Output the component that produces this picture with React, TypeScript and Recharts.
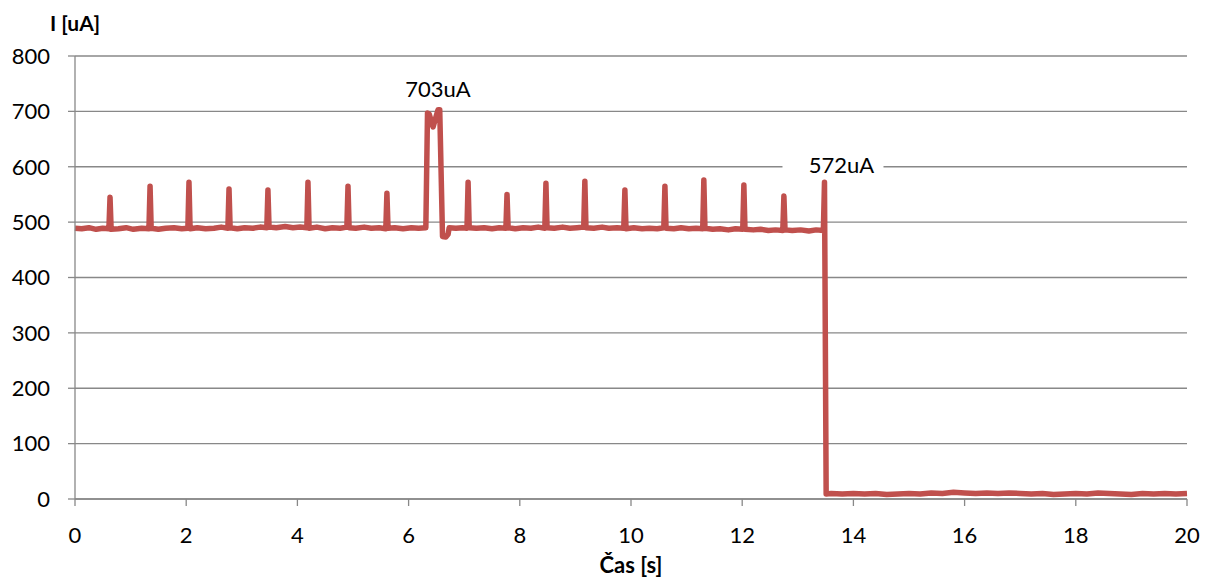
import React from 'react';
import { LineChart, Line, XAxis, YAxis, CartesianGrid, LabelList, Label } from 'recharts';

// [time s, current uA] samples
const beforePulse: [number, number][] = [
  [0, 489], [0.12, 488], [0.25, 490], [0.38, 487], [0.5, 489], [0.61, 488], [0.63, 545], [0.65, 487],
  [0.78, 488], [0.92, 490], [1.05, 487], [1.2, 489], [1.33, 488], [1.35, 565], [1.37, 489], [1.5, 487],
  [1.63, 489], [1.78, 490], [1.92, 488], [2.03, 489], [2.05, 572], [2.07, 488], [2.2, 490], [2.35, 488],
  [2.5, 489], [2.63, 491], [2.75, 489], [2.77, 560], [2.79, 490], [2.92, 488], [3.05, 490], [3.2, 489],
  [3.33, 491], [3.45, 490], [3.47, 558], [3.49, 491], [3.62, 490], [3.78, 492], [3.92, 490], [4.05, 491],
  [4.17, 490], [4.19, 572], [4.21, 489], [4.35, 491], [4.5, 488], [4.63, 490], [4.77, 489], [4.89, 491],
  [4.91, 565], [4.93, 490], [5.05, 489], [5.2, 491], [5.33, 489], [5.47, 490], [5.59, 488], [5.61, 552],
  [5.63, 489], [5.75, 490], [5.9, 488], [6.05, 490], [6.18, 489], [6.31, 490],
];

const pulse: [number, number][] = [
  [6.34, 697], [6.37, 695], [6.44, 672], [6.53, 703], [6.56, 703], [6.61, 474], [6.67, 473], [6.71, 478],
  [6.73, 490],
];

const afterPulse: [number, number][] = [
  [6.85, 489], [6.97, 490], [7.05, 489], [7.07, 572], [7.09, 490], [7.22, 489], [7.36, 490], [7.5, 488],
  [7.63, 490], [7.75, 489], [7.77, 550], [7.79, 490], [7.92, 488], [8.06, 490], [8.2, 489], [8.33, 491],
  [8.45, 489], [8.47, 570], [8.49, 490], [8.62, 489], [8.77, 491], [8.9, 489], [9.03, 490], [9.15, 491],
  [9.17, 574], [9.19, 490], [9.33, 489], [9.48, 491], [9.6, 489], [9.75, 490], [9.87, 489], [9.89, 558],
  [9.91, 488], [10.05, 490], [10.2, 488], [10.33, 489], [10.47, 488], [10.59, 490], [10.61, 565], [10.63, 489],
  [10.77, 488], [10.9, 490], [11.04, 488], [11.17, 489], [11.29, 488], [11.31, 576], [11.33, 489], [11.47, 487],
  [11.6, 488], [11.75, 486], [11.88, 488], [12.01, 487], [12.03, 567], [12.05, 487], [12.2, 486], [12.33, 487],
  [12.47, 485], [12.6, 486], [12.73, 485], [12.75, 547], [12.77, 486], [12.9, 485], [13.05, 486], [13.2, 484],
  [13.33, 486], [13.46, 485], [13.48, 572],
];

const afterDrop: [number, number][] = [
  [13.51, 9], [13.6, 10], [13.8, 9], [14.0, 10], [14.2, 9], [14.4, 10], [14.6, 8], [14.8, 9], [15.0, 10],
  [15.2, 9], [15.4, 11], [15.6, 10], [15.8, 12], [16.0, 11], [16.2, 10], [16.4, 11], [16.6, 10], [16.8, 11],
  [17.0, 10], [17.2, 9], [17.4, 10], [17.6, 8], [17.8, 9], [18.0, 10], [18.2, 9], [18.4, 11], [18.6, 10],
  [18.8, 9], [19.0, 8], [19.2, 10], [19.4, 9], [19.6, 10], [19.8, 9], [20.0, 10],
];

const annotations = [
  { t: 6.53, text: '703uA' },
  { t: 13.48, text: '572uA' },
];

const xTicks = [0, 2, 4, 6, 8, 10, 12, 14, 16, 18, 20];
const yTicks = [0, 100, 200, 300, 400, 500, 600, 700, 800];

const data = [...beforePulse, ...pulse, ...afterPulse, ...afterDrop].map(([t, i]) => ({ t, i }));

const FONT = 'Lato, "Open Sans", sans-serif';
const GRAY = '#888888';

const renderPeakLabel = (props: any) => {
  const { x, y, index } = props;
  const note = annotations.find((a) => a.t === data[index]?.t);
  if (!note) return null;
  if (note.text === '703uA') {
    return (
      <text x={x} y={y - 13} textAnchor="middle" fontFamily={FONT} fontSize={22} fill="#000">
        {note.text}
      </text>
    );
  }
  return (
    <g>
      <rect x={x - 42} y={y - 32} width={101} height={26} fill="#fff" />
      <text x={x + 17} y={y - 9} textAnchor="middle" fontFamily={FONT} fontSize={22} fill="#000">
        {note.text}
      </text>
    </g>
  );
};

export default function App() {
  return (
    <div style={{ position: 'absolute', left: 0, top: 0, width: 1218, height: 581, background: '#fff' }}>
      <LineChart
        width={1218}
        height={581}
        data={data}
        margin={{ top: 56, right: 31, left: 15, bottom: 52 }}
      >
        <CartesianGrid vertical={false} stroke={GRAY} strokeWidth={1.3} />
        <XAxis
          dataKey="t"
          type="number"
          domain={[0, 20]}
          ticks={xTicks}
          interval={0}
          height={30}
          tickSize={7}
          tickMargin={21}
          stroke={GRAY}
          strokeWidth={1.3}
          tick={{ fill: '#000', fontSize: 22, fontFamily: FONT }}
        >
          <Label
            content={({ viewBox }: any) => (
              <text
                x={viewBox.x + viewBox.width / 2}
                y={573}
                textAnchor="middle"
                fontFamily={FONT}
                fontWeight="bold"
                fontSize={22}
                fill="#000"
              >
                Čas [s]
              </text>
            )}
          />
        </XAxis>
        <YAxis
          type="number"
          domain={[0, 800]}
          ticks={yTicks}
          interval={0}
          width={60}
          tickSize={7}
          tickMargin={18}
          stroke={GRAY}
          strokeWidth={1.3}
          tick={{ fill: '#000', fontSize: 22, fontFamily: FONT }}
        >
          <Label
            content={({ viewBox }: any) => (
              <text
                x={viewBox.x + viewBox.width}
                y={31}
                textAnchor="middle"
                fontFamily={FONT}
                fontWeight="bold"
                fontSize={21}
                fill="#000"
              >
                I [uA]
              </text>
            )}
          />
        </YAxis>
        <Line
          type="linear"
          dataKey="i"
          stroke="#C0504D"
          strokeWidth={5.5}
          strokeLinejoin="round"
          dot={false}
          activeDot={false}
          isAnimationActive={false}
        >
          <LabelList dataKey="i" content={renderPeakLabel} />
        </Line>
      </LineChart>
    </div>
  );
}
